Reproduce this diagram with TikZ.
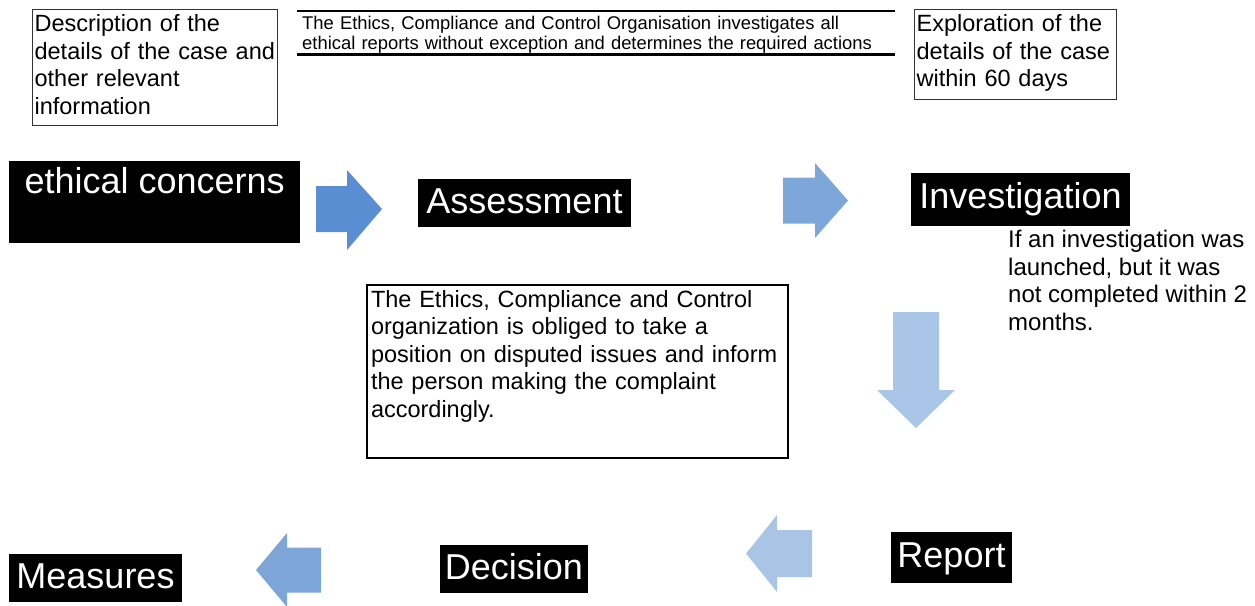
\documentclass[tikz,border=0pt]{standalone}
\usepackage{fontspec}
\setmainfont{Liberation Sans}
\usetikzlibrary{positioning}

\definecolor{arrowA}{HTML}{5A8ED2}
\definecolor{arrowB}{HTML}{7DA6D9}
\definecolor{arrowC}{HTML}{A9C5E7}
\definecolor{arrowD}{HTML}{A9C4E5}
\definecolor{arrowE}{HTML}{7EA5D8}

\begin{document}
\begin{tikzpicture}[
    x=1pt, y=-1pt,
    infobox/.style={draw=black!80, line width=1.2pt, anchor=north west,
                    align=left, inner xsep=2pt, inner ysep=4pt, text height=18pt,
                    font=\fontsize{23.5pt}{27.6pt}\selectfont},
    stage/.style={fill=black, text=white, inner xsep=7pt, inner ysep=0pt,
                  text height=34pt, text depth=14pt,
                  font=\fontsize{36pt}{43pt}\selectfont},
    notetxt/.style={anchor=north west, align=left, inner sep=0pt,
                    text height=18pt, font=\fontsize{24pt}{27.6pt}\selectfont}
  ]
  \useasboundingbox (0,0) rectangle (1255,605);

  % top row of notes
  \node[infobox, text width=241pt, text depth=90pt] (descr) at (32,9)
    {Description of the\\details of the case and\\other relevant\\information};

  \node[anchor=north west, align=left, text width=588pt, inner xsep=5pt,
        inner ysep=4pt, text height=14.3pt, text depth=20.7pt,
        font=\fontsize{18.4pt}{20pt}\selectfont] (orgnote) at (297,11)
    {The Ethics, Compliance and Control Organisation investigates all\\
     ethical reports without exception and determines the required actions};
  \draw[line width=2.5pt] (orgnote.north west) -- (orgnote.north east);
  \draw[line width=2.5pt] (orgnote.south west) -- (orgnote.south east);

  \node[infobox, text width=198pt, text depth=64pt] (explore) at (914,9)
    {Exploration of the\\details of the case\\within 60 days};

  % stages
  \node[stage, anchor=north west, minimum width=291pt, inner xsep=0pt,
        text height=32pt, text depth=50pt] (concerns) at (9,161)
    {ethical concerns};
  \node[stage, inner xsep=8.5pt] (assess) at (524.5,203) {Assessment};
  \node[stage, inner xsep=8.5pt, text height=35pt, text depth=18pt]
    (invest) at (1020.5,199.5) {Investigation};
  \node[stage, text height=35pt, text depth=16pt, inner xsep=6.5pt]
    (report) at (951.5,557.5) {Report};
  \node[stage, inner xsep=5pt] (decision) at (514,569) {Decision};
  \node[stage, inner xsep=7.5pt] (measures) at (95.5,578) {Measures};

  % block arrows
  \fill[arrowA] (316,186) -- (347,186) -- (347,170) -- (382,209)
    -- (347,250) -- (347,232) -- (316,232) -- cycle;
  \fill[arrowB] (783,177.5) -- (815,177.5) -- (815,163) -- (848,200.5)
    -- (815,238) -- (815,223.5) -- (783,223.5) -- cycle;
  \fill[arrowC] (893,312) -- (939,312) -- (939,390) -- (955,390)
    -- (916,428) -- (877,390) -- (893,390) -- cycle;
  \fill[arrowD] (812,530) -- (777,530) -- (777,515) -- (746,553.5)
    -- (777,592) -- (777,577) -- (812,577) -- cycle;
  \fill[arrowE] (321,547.5) -- (287,547.5) -- (287,533) -- (256,570)
    -- (287,607) -- (287,592.5) -- (321,592.5) -- cycle;

  % middle notes
  \node[infobox, draw=black, line width=2pt, inner xsep=4pt,
        text width=413pt, text depth=147pt] (position) at (366,284)
    {The Ethics, Compliance and Control\\organization is obliged to take a\\
     position on disputed issues and inform\\the person making the complaint\\
     accordingly.};

  \node[notetxt] (delay) at (1008,312)
    {If an investigation was\\launched, but it was\\not completed within 2\\months.};
\end{tikzpicture}
\end{document}
